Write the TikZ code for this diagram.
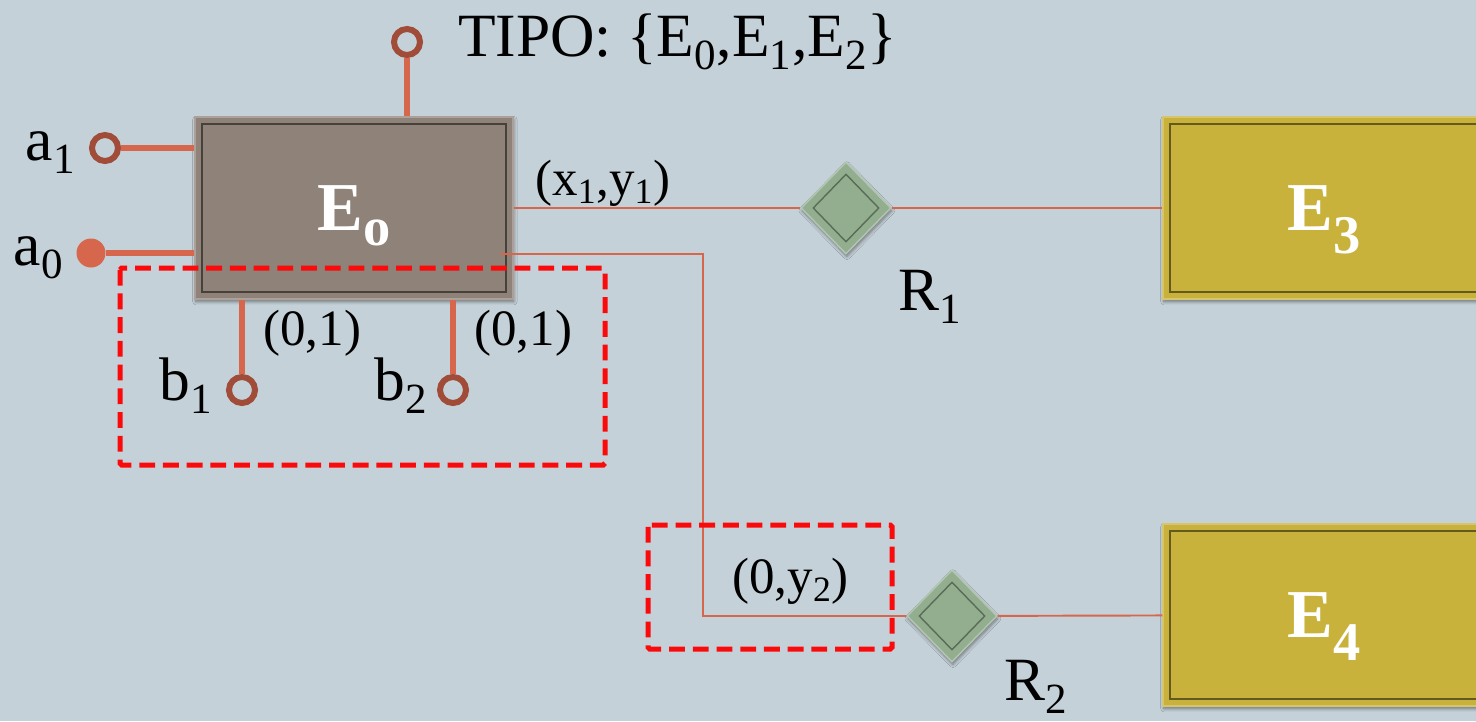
\documentclass[tikz,border=0pt]{standalone}
\usepackage{fontspec}
\setmainfont{Liberation Serif}
\definecolor{slatebg}{RGB}{197,209,216}
\definecolor{taupe}{RGB}{143,130,120}
\definecolor{mustard}{RGB}{201,178,60}
\definecolor{sage}{RGB}{147,174,143}
\definecolor{sagedark}{RGB}{88,108,86}
\definecolor{coral}{RGB}{214,102,76}
\definecolor{rust}{RGB}{160,76,56}
\definecolor{alertred}{RGB}{250,10,10}
\usetikzlibrary{shapes.geometric, shadows.blur}
\newcommand\entsub[2][-0.34em]{\raisebox{#1}{\fontsize{31}{31}\selectfont #2}}
\tikzset{
  entity/.style={rectangle, draw=#1!75!white, line width=0.8pt, fill=#1, text=white,
    font=\fontsize{39}{44}\selectfont\bfseries, minimum height=3.64cm, inner sep=0pt,
    text depth=0pt,
    blur shadow={shadow xshift=0.5pt, shadow yshift=-1.5pt, shadow blur steps=6, shadow opacity=45},
    path picture={\draw[#1!50!black, line width=0.9pt]
      ([shift={(7,7)}]path picture bounding box.north west) rectangle
      ([shift={(-7,-7)}]path picture bounding box.south east);}},
  relation/.style={diamond, aspect=1, draw=sage!70!white, line width=0.8pt, fill=sage,
    minimum width=1.8cm, minimum height=1.84cm, inner sep=0pt,
    blur shadow={shadow xshift=0.5pt, shadow yshift=-1.5pt, shadow blur steps=6, shadow opacity=45},
    path picture={\draw[sagedark, line width=0.8pt]
      ([shift={(0,12)}]path picture bounding box.north) --
      ([shift={(-12,0)}]path picture bounding box.east) --
      ([shift={(0,-12)}]path picture bounding box.south) --
      ([shift={(12,0)}]path picture bounding box.west) -- cycle;}},
  port/.style={circle, draw=rust, line width=0.12cm, inner sep=0pt, minimum size=0.52cm},
  portfull/.style={circle, fill=coral, inner sep=0pt, minimum size=0.58cm},
  stub/.style={coral, line width=0.12cm},
  link/.style={coral, line width=1.1pt},
  group/.style={alertred, line width=0.1cm, dash pattern=on 9pt off 4.5pt, rounded corners=1pt},
  lbl/.style={font=\fontsize{35}{40}\selectfont, inner sep=0pt},
  card/.style={font=\fontsize{29}{34}\selectfont, inner sep=0pt},
}
\begin{document}
\begin{tikzpicture}[x=0.02cm, y=-0.02cm]
  \useasboundingbox (0,0) rectangle (1476,721);
  \clip (0,0) rectangle (1476,721);
  \fill[slatebg] (0,0) rectangle (1476,721);

  \node[entity=taupe, minimum width=6.36cm] (e0) at (354,208) {E\entsub[-0.22em]{o}};
  \node[entity=mustard, minimum width=6.44cm] (e3) at (1324,208) {E\entsub{3}};
  \node[entity=mustard, minimum width=6.44cm] (e4) at (1324,615) {E\entsub{4}};
  \node[relation] (r1) at (846,208) {};
  \node[relation] (r2) at (952,616) {};

  \node[port] (t0) at (407,42) {};
  \node[port] (a1) at (105,148) {};
  \node[portfull] (a0) at (91,253) {};
  \node[port] (b1) at (242,390) {};
  \node[port] (b2) at (453,390) {};

  \draw[stub] (t0) -- (t0 |- e0.north);
  \draw[stub] (a1) -- (a1 -| e0.west);
  \draw[stub] (a0) -- (a0 -| e0.west);
  \draw[stub] (b1) -- (b1 |- e0.south);
  \draw[stub] (b2) -- (b2 |- e0.south);

  \draw[link] (e0) -- (r1) -- (e3);
  \coordinate (bend) at (703,616);
  \draw[link] ([shift={(-13,46)}]e0.east) -| (bend) -- (r2) -- (e4);

  \draw[group] (120,268) rectangle (605,465);
  \draw[group] (648,525) rectangle (892,649);

  \node[lbl, anchor=base west] (tipo) at (458,56) {TIPO: \{E\textsubscript{0},E\textsubscript{1},E\textsubscript{2}\}};
  \node[lbl, anchor=base east] (la1) at (76,160) {a\textsubscript{1}};
  \node[lbl, anchor=base east] (la0) at (64,265) {a\textsubscript{0}};
  \node[lbl, anchor=base east] (lb1) at (213,400) {b\textsubscript{1}};
  \node[lbl, anchor=base east] (lb2) at (428,400) {b\textsubscript{2}};
  \node[card, anchor=base west] (cb1) at (263,345) {(0,1)};
  \node[card, anchor=base west] (cb2) at (474,345) {(0,1)};
  \node[card, anchor=base west] (cr1) at (535,195) {(x\textsubscript{1},y\textsubscript{1})};
  \node[card, anchor=base west] (cr2) at (732,593) {(0,y\textsubscript{2})};
  \node[lbl, anchor=base west] (lr1) at (898,310) {R\textsubscript{1}};
  \node[lbl, anchor=base west] (lr2) at (1004,700) {R\textsubscript{2}};
\end{tikzpicture}
\end{document}
